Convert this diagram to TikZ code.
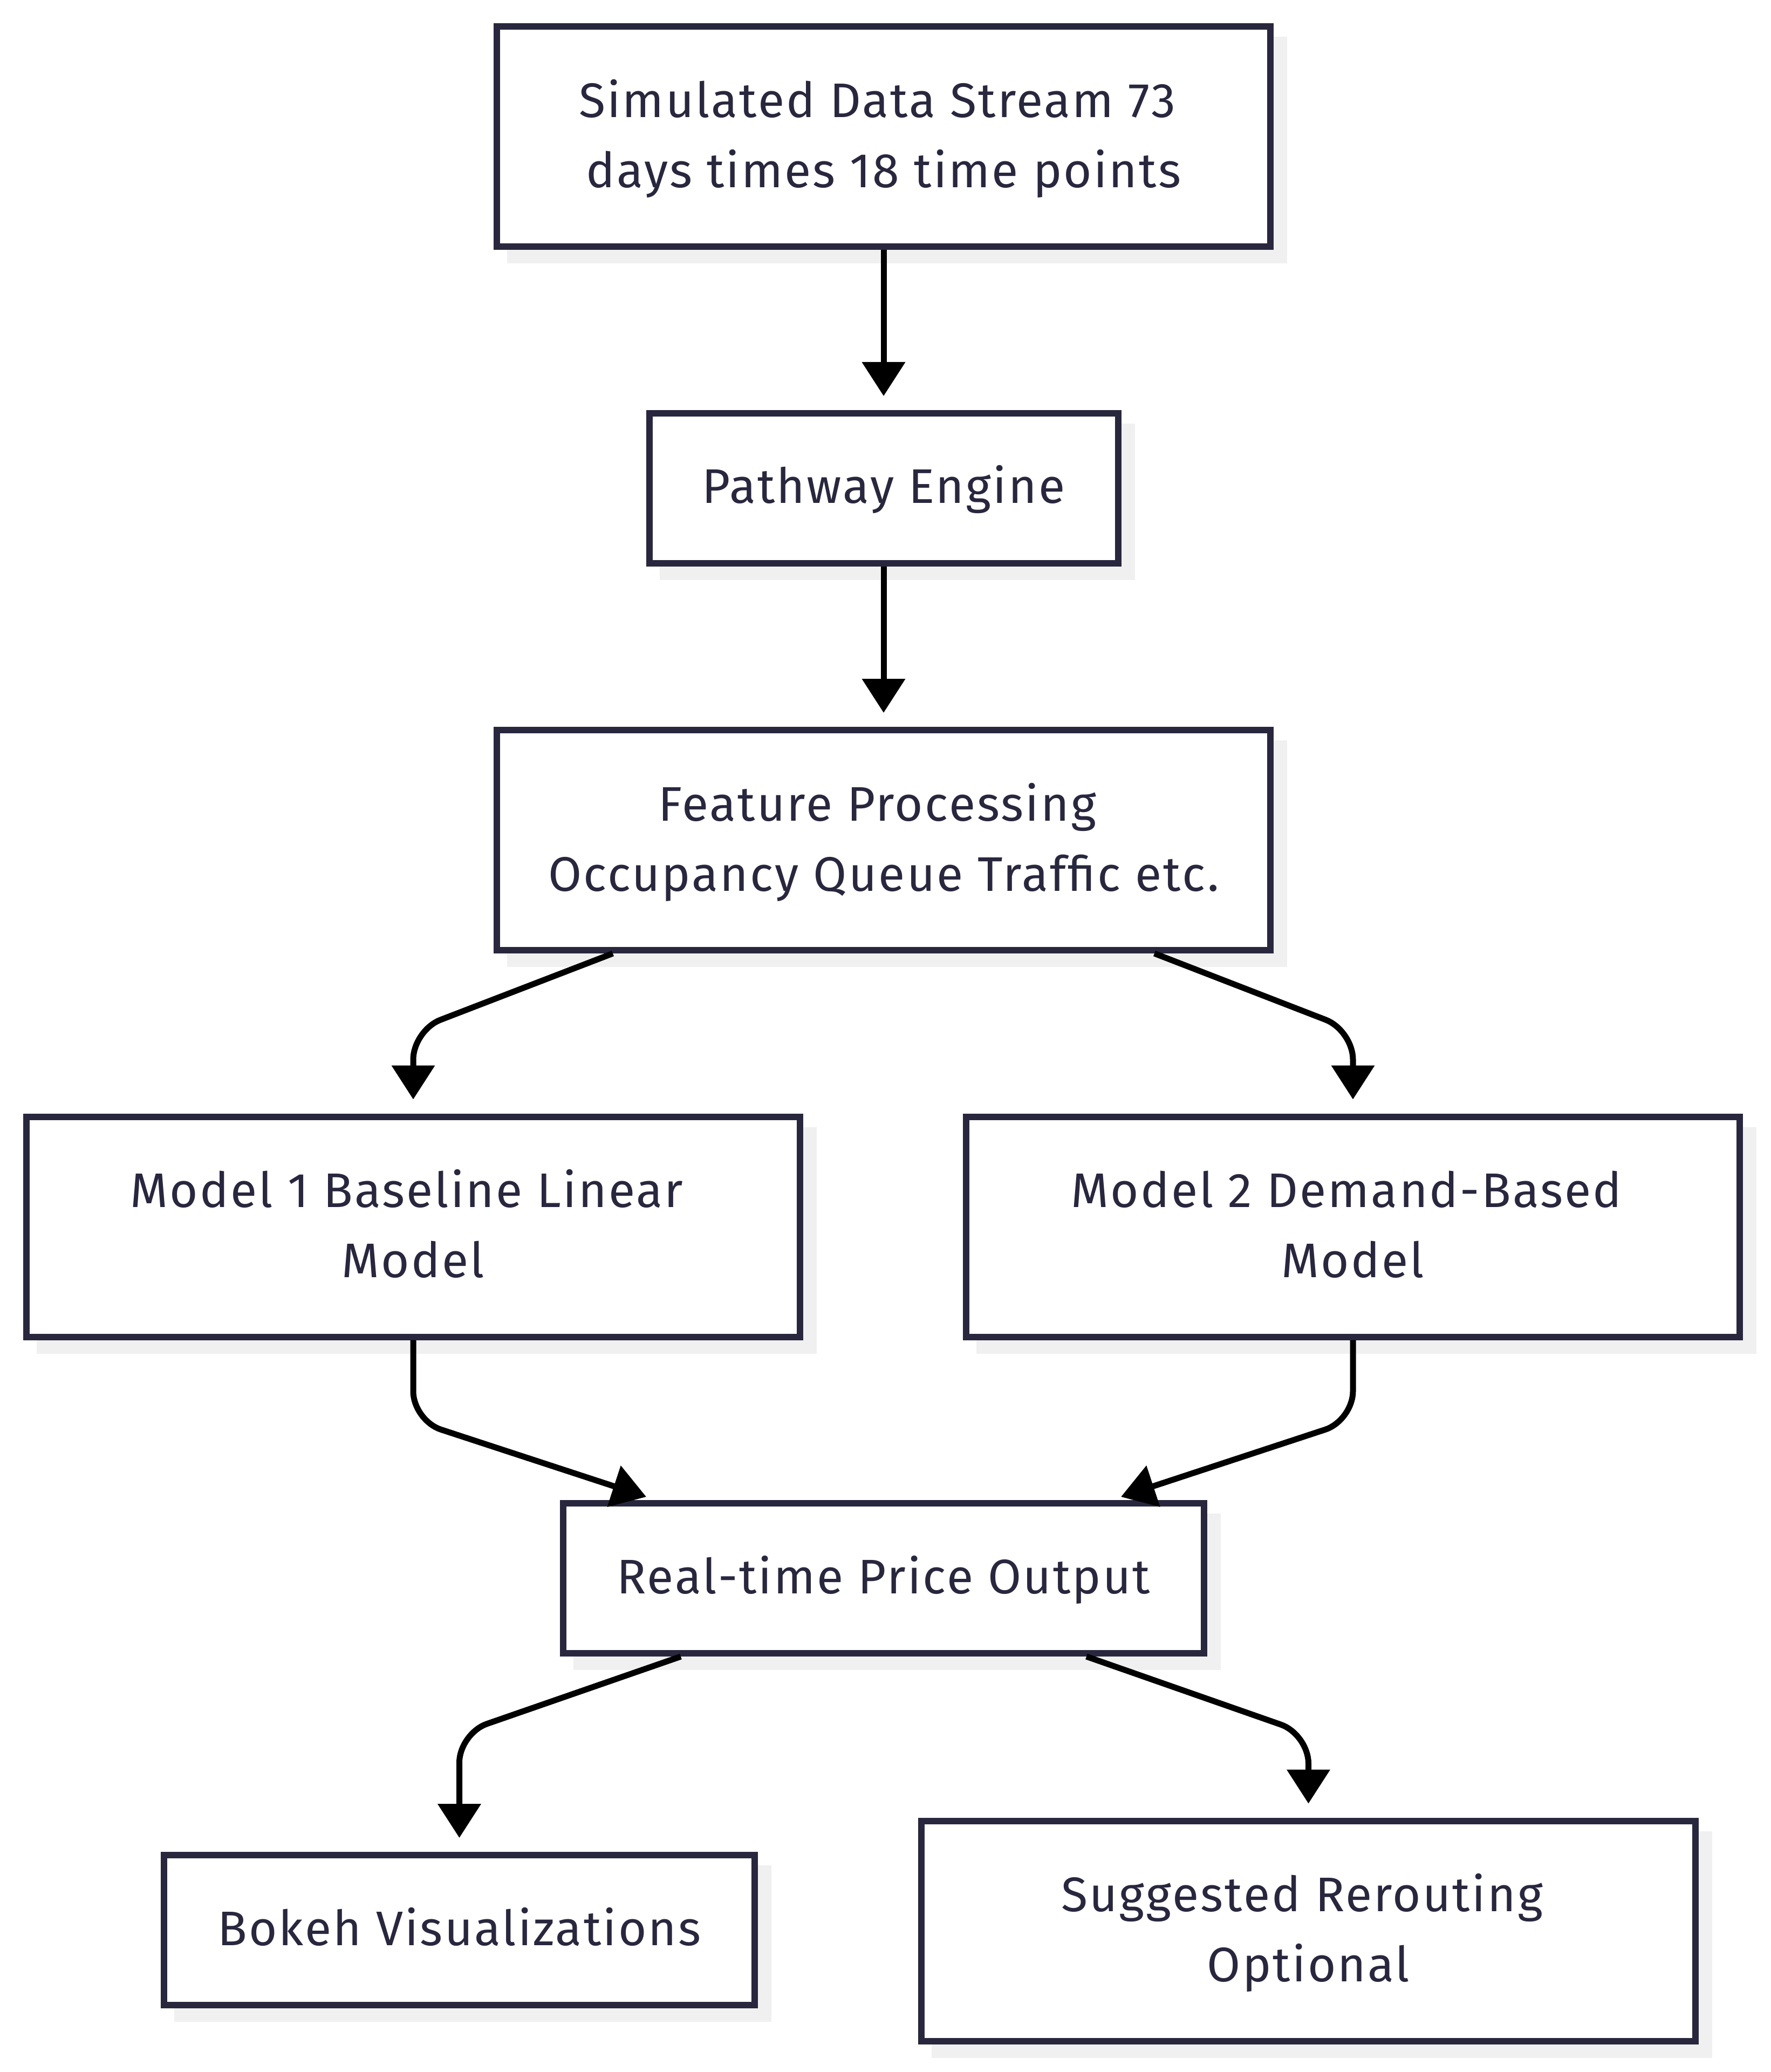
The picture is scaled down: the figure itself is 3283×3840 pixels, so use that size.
\documentclass[tikz,border=0pt]{standalone}
\usepackage{fontspec}
\setmainfont{Fira Sans}[LetterSpace=3.5]
\usetikzlibrary{arrows.meta,calc}
\definecolor{bordc}{RGB}{40,39,62}
\definecolor{shadowc}{RGB}{240,240,240}
\tikzset{
  box/.style={draw=bordc, line width=3pt, fill=white, inner sep=0pt,
    preaction={fill=shadowc, draw=shadowc, transform canvas={shift={(6.25pt,-6.25pt)}}}},
  wide/.style={minimum width=358.625pt, minimum height=102pt},
  slim/.style={minimum height=69.5pt},
  txt/.style={anchor=base, inner sep=0pt, text=bordc, font=\fontsize{22.5pt}{32.5pt}\selectfont},
  arr/.style={draw=black, line width=2.75pt, -{Triangle[length=15.75pt, width=19.5pt]}},
  roundbend/.style={rounded corners=13.5pt}
}
\begin{document}
\begin{tikzpicture}[x=0.25pt, y=-0.25pt]
\useasboundingbox (0,0) rectangle (3283,3840);
% boxes
\node[box, wide] (b1) at (1638,253) {};
\node[box, slim, minimum width=217.25pt] (b2) at (1638,905) {};
\node[box, wide] (b3) at (1638,1557) {};
\node[box, wide] (m1) at (766,2273.5) {};
\node[box, wide] (m2) at (2508,2273.5) {};
\node[box, slim, minimum width=297pt] (rt) at (1638,2925) {};
\node[box, slim, minimum width=273.75pt] (bk) at (851.5,3577) {};
\node[box, minimum width=358.75pt, minimum height=102pt] (sg) at (2425.5,3578.5) {};
% texts
\node[txt] (t1a) at (1626,217.5) {Simulated Data Stream 73};
\node[txt] (t1b) at (1638,347.5) {days times 18 time points};
\node[txt] (t2) at (1638,932.5) {Pathway Engine};
\node[txt] (t3a) at (1626,1521) {Feature Processing};
\node[txt] (t3b) at (1638,1651) {Occupancy Queue Traffic etc.};
\node[txt] (t4a) at (754,2237.5) {Model 1 Baseline Linear};
\node[txt] (t4b) at (766,2367.5) {Model};
\node[txt] (t5a) at (2496,2237.5) {Model 2 Demand-Based};
\node[txt] (t5b) at (2508,2367.5) {Model};
\node[txt] (t6) at (1638,2953) {Real-time Price Output};
\node[txt] (t7) at (851.5,3605) {Bokeh Visualizations};
\node[txt] (t8a) at (2413.5,3542.5) {Suggested Rerouting};
\node[txt] (t8b) at (2425.5,3672.5) {Optional};
% connectors
\draw[arr, shorten >=6.5pt] (b1) -- (b2);
\draw[arr, shorten >=6.5pt] (b2) -- (b3);
\draw[arr, roundbend, shorten >=6.5pt] ([xshift=-125.5pt]b3.south) -- ($(m1.north)+(0,-154)$) -- (m1.north);
\draw[arr, roundbend, shorten >=6.5pt] ([xshift=125.5pt]b3.south) -- ($(m2.north)+(0,-154)$) -- (m2.north);
\draw[arr, roundbend] (m1.south) -- ($(m1.south)+(0,149)$) -- ([xshift=-110pt,yshift=1.5pt]rt.north);
\draw[arr, roundbend] (m2.south) -- ($(m2.south)+(0,149)$) -- ([xshift=110pt,yshift=1.5pt]rt.north);
\draw[arr, roundbend, shorten >=6.5pt] ([xshift=-94pt]rt.south) -- ($(bk.north)+(0,-219.5)$) -- (bk.north);
\draw[arr, roundbend, shorten >=6.5pt] ([xshift=94pt]rt.south) -- ($(sg.north)+(0,-154.5)$) -- (sg.north);
\end{tikzpicture}
\end{document}
